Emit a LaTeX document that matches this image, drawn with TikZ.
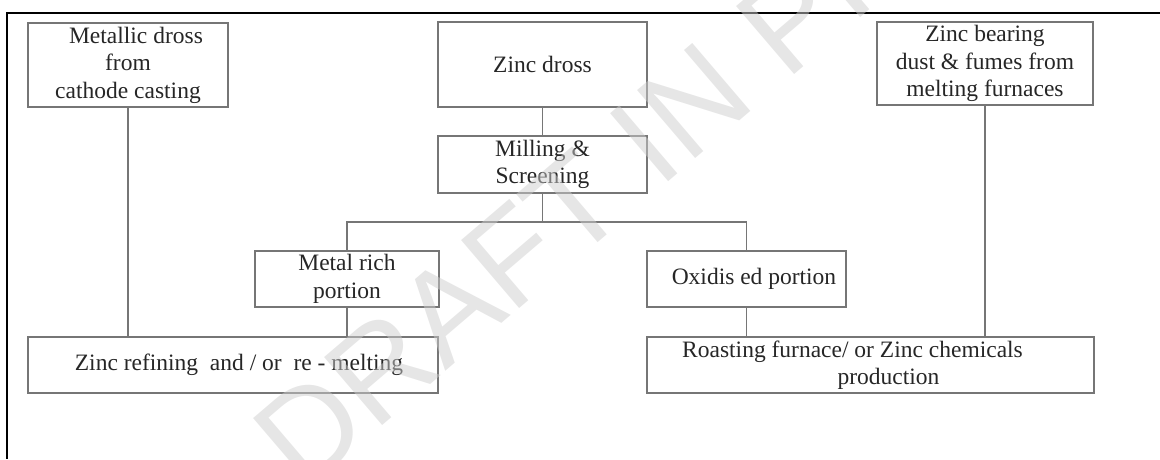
\documentclass[tikz,border=0pt]{standalone}
\usepackage{fontspec}
\setmainfont{Liberation Serif}
\newfontfamily\wmfont{Liberation Sans}
\definecolor{boxgray}{RGB}{118,118,118}
\definecolor{wmgray}{RGB}{205,205,205}
\begin{document}
\begin{tikzpicture}[x=1pt,y=-1pt,
  box/.style={draw=boxgray, line width=1.3pt, inner sep=0pt, align=center,
    font=\fontsize{23.5}{27.5}\selectfont, text=black!85},
  conn/.style={draw=boxgray, line width=1.3pt},
  frameline/.style={draw=black, line width=2.2pt},
  watermark/.style={font=\wmfont\fontsize{130}{130}\selectfont, text=wmgray, opacity=0.5, rotate=40.5, anchor=base west, inner sep=0pt}]
\useasboundingbox (0,0) rectangle (1160,459);
% frame
\coordinate (ftr) at (1160,13);
\coordinate (ftl) at (7,13);
\coordinate (fbl) at (7,459);
\draw[frameline] (ftr) -- (ftl) -- (fbl);
% boxes
\node[box, minimum width=200pt, minimum height=84pt] (md) at (128,65)
  {\hspace*{16pt}Metallic dross\\from\hspace*{16pt}\\cathode casting};
\node[box, minimum width=209pt, minimum height=85pt] (zd) at (542.5,64.5) {Zinc dross};
\node[box, minimum width=209pt, minimum height=57pt] (ms) at (542.5,164.5) {Milling \&\\Screening};
\node[box, minimum width=216pt, minimum height=83pt] (zb) at (985,63.5)
  {Zinc bearing\\dust \& fumes from\\melting furnaces};
\node[box, minimum width=184pt, minimum height=56pt] (mr) at (347,279) {Metal rich\\portion};
\node[box, minimum width=199pt, minimum height=56pt] (od) at (746.5,279) {\hspace*{15pt}Oxidis ed portion};
\node[box, minimum width=410pt, minimum height=56pt] (zr) at (233,365)
  {\hspace*{12pt}Zinc refining\ \ and / or\ \ re - melting};
\node[box, minimum width=447pt, minimum height=56pt] (rf) at (870.5,365)
  {Roasting furnace/ or Zinc chemicals\hspace*{36pt}\\\hspace*{36pt}production};
% connectors
\coordinate (j) at (542.5,222);
\draw[conn] (md.south) -- (md.south |- zr.north);
\draw[conn] (zd.south) -- (ms.north);
\draw[conn] (ms.south) -- (j);
\draw[conn] (mr.north) |- (j) -| (od.north);
\draw[conn] (mr.south) -- (mr.south |- zr.north);
\draw[conn] (od.south) -- (od.south |- rf.north);
\draw[conn] (zb.south) -- (zb.south |- rf.north);
% watermark
\node[watermark] (wm) at (303,494) {DRAFT IN PRESS};
\end{tikzpicture}
\end{document}
